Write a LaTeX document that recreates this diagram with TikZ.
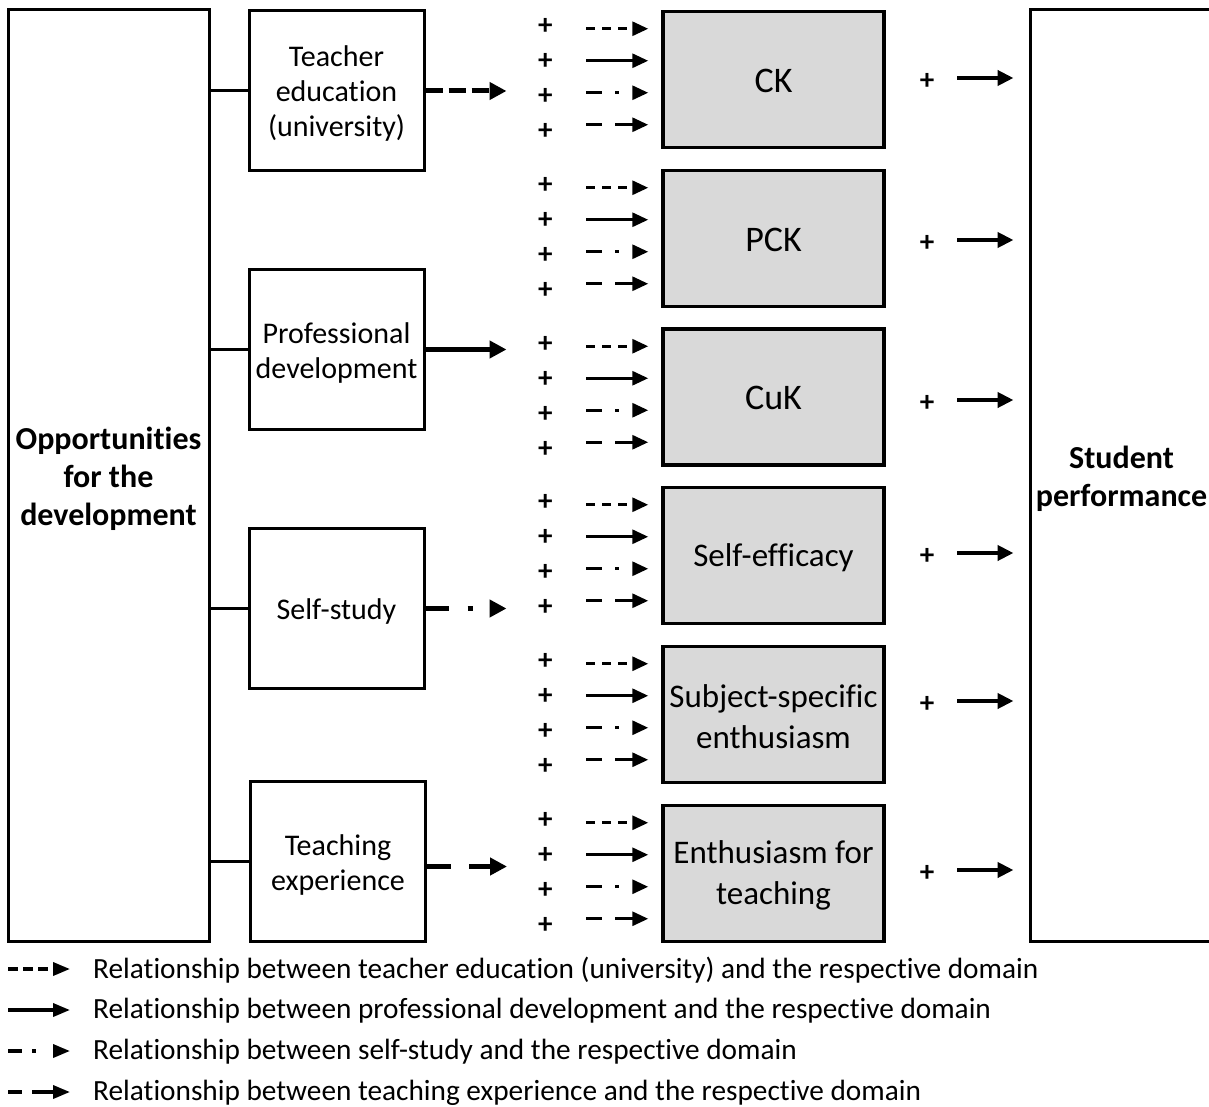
\documentclass[tikz,border=0pt]{standalone}
\usepackage{fontspec}
\setmainfont{Carlito}[Ligatures=NoCommon]
\usetikzlibrary{arrows.meta,calc}
\definecolor{boxgray}{HTML}{D9D9D9}
\begin{document}
\begin{tikzpicture}[x=1pt,y=-1pt,
  outerbox/.style={draw,line width=3,inner sep=0},
  outertxt/.style={label={[align=center,font=\bfseries\fontsize{32}{38}\selectfont,yshift=-3]center:#1}},
  srcbox/.style={draw,line width=3,minimum width=175,minimum height=160,inner sep=0},
  srctxt/.style={label={[align=center,font=\fontsize{30}{35}\selectfont,yshift=-3]center:#1}},
  tgtbox/.style={draw,line width=3.5,fill=boxgray,minimum width=221,minimum height=136,inner sep=0},
  tgttxt/.style={label={[align=center,font=\fontsize{33}{41}\selectfont,yshift=-2]center:#1}},
  tgtbig/.style={label={[align=center,font=\fontsize{36}{41}\selectfont,yshift=-1]center:#1}},
  plus/.style={font=\bfseries\fontsize{29}{29}\selectfont,inner sep=0,yshift=-3},
  legtxt/.style={font=\fontsize{29.3}{32}\selectfont,inner sep=0,anchor=west,yshift=-1},
  bigarr/.style={line width=5,-{Triangle[length=17,width=17]}},
  smallarr/.style={line width=3,-{Triangle[length=16,width=14]}},
  rarr/.style={line width=4,-{Triangle[length=16,width=15]}},
  legarr/.style={line width=3.5,-{Triangle[length=17,width=13]}},
  sDsh/.style={dash pattern=on 9 off 7},
  sSld/.style={},
  sDd/.style={dash pattern=on 16 off 13 on 4 off 30},
  sLd/.style={dash pattern=on 16 off 13 on 40},
  lDsh/.style={dash pattern=on 10 off 5},
  lDd/.style={dash pattern=on 14 off 10 on 4 off 30},
  lLd/.style={dash pattern=on 14 off 10 on 40},
  link/.style={line width=3}]
\useasboundingbox (0,0) rectangle (1209,1107);
\fill[white] (0,0) rectangle (1209,1107);

% outer boxes
\node[outerbox,minimum width=201,minimum height=931,outertxt={Opportunities\\for the\\development}] (opp) at (108.5,475.5) {};
\node[outerbox,minimum width=183,minimum height=931,outertxt={Student\\performance}] (perf) at (1121.5,475.5) {};

% source boxes
\node[srcbox,srctxt={Teacher\\education\\(university)}] (te) at (336.5,91) {};
\node[srcbox,srctxt={Professional\\development}] (pd) at (336.5,349.5) {};
\node[srcbox,srctxt={Self-study}] (ss) at (336.5,608.5) {};
\node[srcbox,srctxt={Teaching\\experience}] (tx) at (338,861.5) {};

% links from left box
\draw[link] (opp.east |- te.west) -- (te.west);
\draw[link] (opp.east |- pd.west) -- (pd.west);
\draw[link] (opp.east |- ss.west) -- (ss.west);
\draw[link] (opp.east |- tx.west) -- (tx.west);

% big arrows
\draw[bigarr,dash pattern=on 17 off 6] (te.east) -- ++(81,0) coordinate (te-end);
\draw[bigarr] (pd.east) -- ++(81,0) coordinate (pd-end);
\draw[bigarr,dash pattern=on 23 off 19 on 5 off 50] (ss.east) -- ++(81,0) coordinate (ss-end);
\draw[bigarr,dash pattern=on 24 off 18 on 40] ([yshift=-5]tx.east) -- ++(80,0) coordinate (tx-end);

% target boxes
\node[tgtbox,tgtbig={CK}] (ck) at (773.5,79.5) {};
\node[tgtbox,tgtbig={PCK}] (pck) at (773.5,238.5) {};
\node[tgtbox,tgtbig={CuK}] (cuk) at (773.5,397) {};
\node[tgtbox,tgttxt={Self-efficacy}] (se) at (773.5,555.5) {};
\node[tgtbox,tgttxt={Subject-specific\\enthusiasm}] (sse) at (773.5,714.5) {};
\node[tgtbox,tgttxt={Enthusiasm for\\teaching}] (et) at (773.5,873.5) {};

% plus signs and small arrows
\foreach \t in {ck,pck,cuk,se,sse,et} {
  \foreach \k/\st in {0/sDsh,1/sSld,2/sDd,3/sLd} {
    \node[plus] (p-\t-\k) at ($(\t.north west)+(-116,14+35*\k)$) {+};
    \coordinate (a-\t-\k) at ($(\t.north west)+(-75,19+32*\k)$);
    \draw[smallarr,\st] (a-\t-\k) -- ($(\t.north west)+(-13,19+32*\k)$);
  }
}

% right arrows
\foreach \t/\yy in {ck/78,pck/240,cuk/400,se/553,sse/701,et/870} {
  \node[plus] (rp-\t) at (927,\yy) {+};
  \coordinate (ra-\t) at (957,\yy);
  \draw[rarr] (ra-\t) -- ($(perf.west |- ra-\t)+(-15,0)$);
}

% legend
\coordinate (l1) at (8,969);
\coordinate (l2) at (8,1010);
\coordinate (l3) at (8,1051);
\coordinate (l4) at (8,1092);
\draw[legarr,lDsh] (l1) -- ++(62,0);
\draw[legarr] (l2) -- ++(62,0);
\draw[legarr,lDd] (l3) -- ++(62,0);
\draw[legarr,lLd] (l4) -- ++(62,0);
\node[legtxt] (t1) at (93,969) {Relationship between teacher education (university) and the respective domain};
\node[legtxt] (t2) at (93,1010) {Relationship between professional development and the respective domain};
\node[legtxt] (t3) at (93,1051) {Relationship between self-study and the respective domain};
\node[legtxt] (t4) at (93,1092) {Relationship between teaching experience and the respective domain};
\end{tikzpicture}
\end{document}
